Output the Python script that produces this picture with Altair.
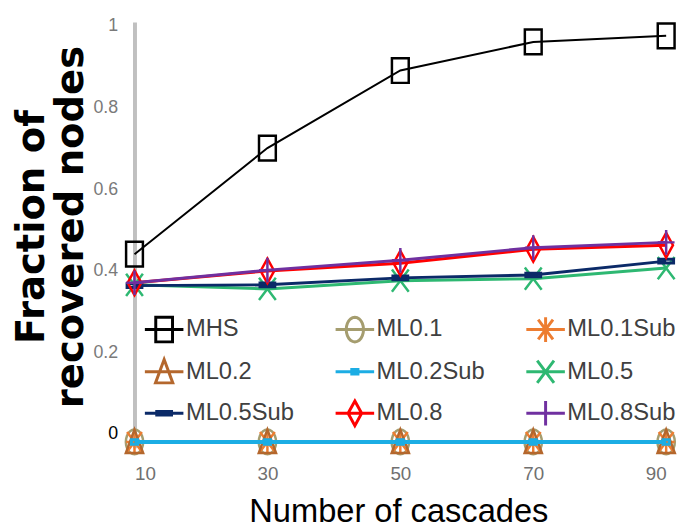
import math
import altair as alt
import pandas as pd

# ---------------- data ----------------
cascades = [10, 30, 50, 70, 90]
series_names = ["MHS", "ML0.1", "ML0.1Sub", "ML0.2", "ML0.2Sub",
                "ML0.5", "ML0.5Sub", "ML0.8", "ML0.8Sub"]
mhs = [0.46, 0.72, 0.91, 0.98, 0.995]
ml01 = [0, 0, 0, 0, 0]
ml01sub = [0, 0, 0, 0, 0]
ml02 = [0, 0, 0, 0, 0]
ml02sub = [0, 0, 0, 0, 0]
ml05 = [0.385, 0.375, 0.395, 0.40, 0.426]
ml05sub = [0.383, 0.385, 0.402, 0.409, 0.443]
ml08 = [0.39, 0.419, 0.438, 0.472, 0.482]
ml08sub = [0.39, 0.421, 0.445, 0.476, 0.489]
series_values = [mhs, ml01, ml01sub, ml02, ml02sub, ml05, ml05sub, ml08, ml08sub]
y_ticks = [0, 0.2, 0.4, 0.6, 0.8, 1]

# ---------------- styles ----------------
colors = ["#000000", "#a59d6f", "#ed7d31", "#b4672d", "#1cade4",
          "#2eb872", "#0b2a68", "#ff0000", "#7030a0"]
line_widths = [2, 4, 3, 3, 4, 3, 3, 3, 3]
marker_widths = [2.5, 2.5, 2.5, 2.5, 3, 2.5, 3, 2.5, 2.5]

FONT = "Liberation Sans, Arial, sans-serif"


def ellipse(rx, ry, n=24):
    return [[(rx * math.cos(2 * math.pi * k / n), ry * math.sin(2 * math.pi * k / n))
             for k in range(n)] + [None]]


# each marker: list of polylines; a trailing None means closed
markers = [
    [[(-0.68, -1), (0.68, -1), (0.68, 1), (-0.68, 1), None]],
    ellipse(0.7, 1.0),
    [[(-0.68, 0), (0.68, 0)], [(0, -1), (0, 1)],
     [(-0.6, -0.8), (0.6, 0.8)], [(-0.6, 0.8), (0.6, -0.8)]],
    [[(0, -1), (0.7, 0.9), (-0.7, 0.9), None]],
    [[(-0.25, -0.18), (0.25, -0.18), (0.25, 0.18), (-0.25, 0.18), None]],
    [[(-0.68, -0.9), (0.68, 0.9)], [(-0.68, 0.9), (0.68, -0.9)]],
    [[(-0.6, -0.15), (0.6, -0.15), (0.6, 0.15), (-0.6, 0.15), None]],
    [[(0, -1), (0.55, 0), (0, 1), (-0.55, 0), None]],
    [[(-0.68, 0), (0.68, 0)], [(0, -1), (0, 1)]],
]


def to_path(polys, s=1.0):
    out = []
    for poly in polys:
        pts = [p for p in poly if p is not None]
        closed = poly[-1] is None
        seg = "M%.3f,%.3f" % (pts[0][0] * s, pts[0][1] * s)
        for p in pts[1:]:
            seg += "L%.3f,%.3f" % (p[0] * s, p[1] * s)
        if closed:
            seg += "Z"
        out.append(seg)
    return "".join(out)


plot_paths = [to_path(m) for m in markers]
legend_paths = ["M-1,0L1,0" + to_path(m, 0.64) for m in markers]

# ---------------- table ----------------
rows = []
for name, vals in zip(series_names, series_values):
    for c, v in zip(cascades, vals):
        rows.append({"series": name, "cascades": c, "value": v})
df = pd.DataFrame(rows)

x_enc = alt.X("cascades:Q",
              scale=alt.Scale(domain=[10, 90], nice=False, zero=False),
              axis=alt.Axis(values=cascades, title="Number of cascades",
                            domain=False, ticks=False, tickSize=0, grid=False,
                            labelFont=FONT, labelFontSize=19, labelColor="#707070",
                            labelPadding=17,
                            titleFont=FONT, titleFontSize=33, titleFontWeight="normal",
                            titleColor="#000000", titleX=267, titleY=74,
                            titleAlign="center", titleBaseline="alphabetic"))
y_enc = alt.Y("value:Q",
              scale=alt.Scale(domain=[-0.0145, 1.029], nice=False, zero=False),
              axis=alt.Axis(values=y_ticks, title=["Fraction of", "recovered nodes"],
                            format="~g",
                            domain=True, domainColor="#c0c0c0", domainWidth=4,
                            ticks=False, tickSize=0, grid=False,
                            labelFont=FONT, labelFontSize=18,
                            labelColor={"condition": {"test": "datum.value == 0", "value": "#000000"},
                                        "value": "#7a7a7a"},
                            labelPadding=17, labelOffset=-8,
                            titleFont="DejaVu Sans", titleFontSize=39, titleFontWeight="bold",
                            titleColor="#000000", titleLineHeight=39, titleAngle=270,
                            titleAlign="center", titleBaseline="alphabetic",
                            titleX=-92, titleY=207))

base = alt.Chart(df)
layers = []
for i, name in enumerate(series_names):
    sub = base.transform_filter(alt.datum.series == name)
    layers.append(sub.mark_line(color=colors[i], strokeWidth=line_widths[i]).encode(x=x_enc, y=y_enc))
    layers.append(sub.mark_point(shape=plot_paths[i], size=625, filled=False, opacity=1,
                                 color=colors[i], strokeWidth=marker_widths[i]).encode(x=x_enc, y=y_enc))

legend = alt.Legend(title=None, orient="none", legendX=9, legendY=290, columns=3,
                    direction="horizontal",
                    symbolSize=1521, symbolStrokeWidth=3, symbolOpacity=1,
                    labelFont=FONT, labelFontSize=24, labelColor="#404040",
                    labelOffset=1, labelLimit=400, columnPadding=35, rowPadding=3,
                    padding=0, gridAlign="each")
legend_layer = base.mark_point(filled=False, opacity=0).encode(
    x=x_enc, y=y_enc,
    color=alt.Color("series:N", scale=alt.Scale(domain=series_names, range=colors), legend=legend),
    shape=alt.Shape("series:N", scale=alt.Scale(domain=series_names, range=legend_paths), legend=legend),
)
layers.append(legend_layer)

chart = alt.layer(*layers).properties(
    width=538, height=431,
    autosize=alt.AutoSizeParams(type="none"),
    padding={"left": 128, "top": 11, "right": 14, "bottom": 81},
    background="white",
).configure_view(stroke=None)

chart.save("out.html", embed_options={"renderer": "svg", "actions": False})
